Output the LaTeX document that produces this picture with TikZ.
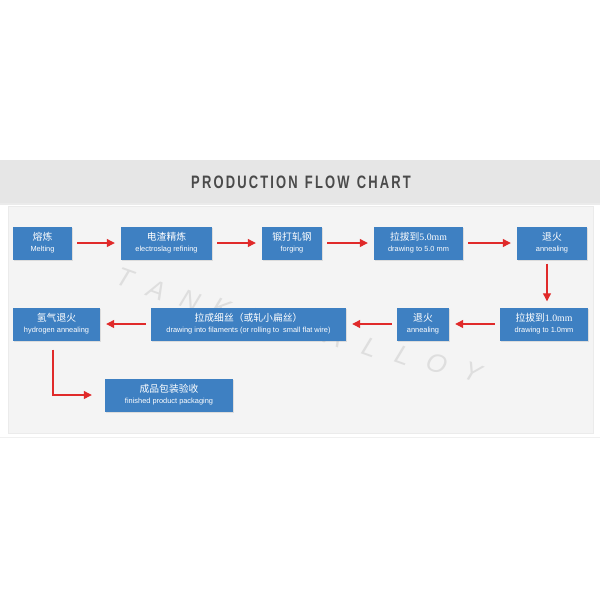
\documentclass[tikz,border=0pt]{standalone}
\usepackage{fontspec}
\setmainfont{Liberation Sans}
\newfontfamily\cjk{Noto Sans CJK SC}
\newfontfamily\numserif{Liberation Serif}
\usetikzlibrary{arrows.meta, shadows}

\definecolor{boxblue}{HTML}{3E80C2}
\definecolor{flowred}{HTML}{E02A2A}
\definecolor{headgray}{HTML}{E6E6E6}
\definecolor{panelgray}{HTML}{F4F4F4}
\definecolor{titlegray}{HTML}{4A4A4A}

\tikzset{
  stepbox/.style = {fill = boxblue, text = white, minimum height = 33pt, inner sep = 0pt,
                    align = center,
                    drop shadow = {opacity = 0.2, shadow xshift = 1pt, shadow yshift = -1.2pt}},
  flowarrow/.style = {flowred, line width = 1.2pt, -{Triangle[length = 8pt, width = 8pt]},
                      shorten < = 5pt, shorten > = 6pt},
  wmark/.style = {text = black!13, font = \fontsize{26}{26}\selectfont\itshape, rotate = -20}
}
\newcommand{\zh}[1]{{\cjk\fontsize{9.8}{11}\selectfont #1}}
\newcommand{\en}[1]{{\fontsize{7.4}{9}\selectfont #1}}

\begin{document}
\begin{tikzpicture} [x = 1pt, y = -1pt]
\useasboundingbox[fill = white] (0, 0) rectangle (600, 600);
% header and panel
\fill[headgray] (0, 160) rectangle (600, 203);
\fill[black!8] (0, 203) rectangle (600, 204.5);
\draw[black!8, fill = panelgray] (8, 206) rectangle (593, 433);
\draw[black!6] (0, 437) -- (600, 437);
\node[text = titlegray, font = \bfseries\fontsize{18}{18}\selectfont] (title) at (301, 182)
  {\scalebox{0.72}[1]{P\,R\,O\,D\,U\,C\,T\,I\,O\,N\; F\,L\,O\,W\; C\,H\,A\,R\,T}};

% watermark
\node[wmark] (wmT) at (125, 278){T};
\node[wmark] (wmA) at (157, 290){A};
\node[wmark] (wmN) at (190, 300){N};
\node[wmark] (wmK) at (222, 308){K};
\node[wmark] (wmI) at (252, 316){I};
\node[wmark] (wmJ) at (283, 323){I};
\node[wmark] (wmB) at (335, 337){A};
\node[wmark] (wmL) at (370, 348){L};
\node[wmark] (wmM) at (403, 356){L};
\node[wmark] (wmO) at (437, 364){O};
\node[wmark] (wmY) at (473, 372){Y};

% first row
\node[stepbox, minimum width = 59pt] (melt) at (42.5, 243)
  {\zh{熔炼}\\[-1pt]\en{Melting}};
\node[stepbox, minimum width = 91pt] (esr) at (166.5, 243)
  {\zh{电渣精炼}\\[-1pt]\en{electroslag refining}};
\node[stepbox, minimum width = 60pt] (forge) at (292, 243)
  {\zh{锻打轧钢}\\[-1pt]\en{forging}};
\node[stepbox, minimum width = 89pt] (drawA) at (418.5, 243)
  {\zh{拉拔到{\numserif 5.0mm}}\\[-1pt]\en{drawing to 5.0 mm}};
\node[stepbox, minimum width = 70pt] (annealA) at (552, 243)
  {\zh{退火}\\[-1pt]\en{annealing}};

% second row
\node[stepbox, minimum width = 88pt] (drawB) at (544, 324)
  {\zh{拉拔到{\numserif 1.0mm}}\\[-1pt]\en{drawing to 1.0mm}};
\node[stepbox, minimum width = 52pt] (annealB) at (423, 324)
  {\zh{退火}\\[-1pt]\en{annealing}};
\node[stepbox, minimum width = 195pt] (filament) at (248.5, 324)
  {\zh{拉成细丝（或轧小扁丝）}\\[-1pt]\en{drawing into filaments (or rolling to \ small flat wire)}};
\node[stepbox, minimum width = 87pt] (hanneal) at (56.5, 324)
  {\zh{氢气退火}\\[-1pt]\en{hydrogen annealing}};

% last step
\node[stepbox, minimum width = 128pt] (pack) at (169, 395)
  {\zh{成品包装验收}\\[-1pt]\en{finished product packaging}};

% connectors
\draw[flowarrow] (melt) -- (esr);
\draw[flowarrow] (esr) -- (forge);
\draw[flowarrow] (forge) -- (drawA);
\draw[flowarrow] (drawA) -- (annealA);
\draw[flowarrow, shorten < = 4pt] ([xshift = -5pt]annealA.south) -- ([xshift = -5pt]annealA.south |- drawB.north);
\draw[flowarrow] (drawB) -- (annealB);
\draw[flowarrow] (annealB) -- (filament);
\draw[flowarrow] (filament) -- (hanneal);
\draw[flowarrow, shorten < = 9pt, shorten > = 13pt] ([xshift = -3.5pt]hanneal.south) |- (pack.west);
\end{tikzpicture}
\end{document}
